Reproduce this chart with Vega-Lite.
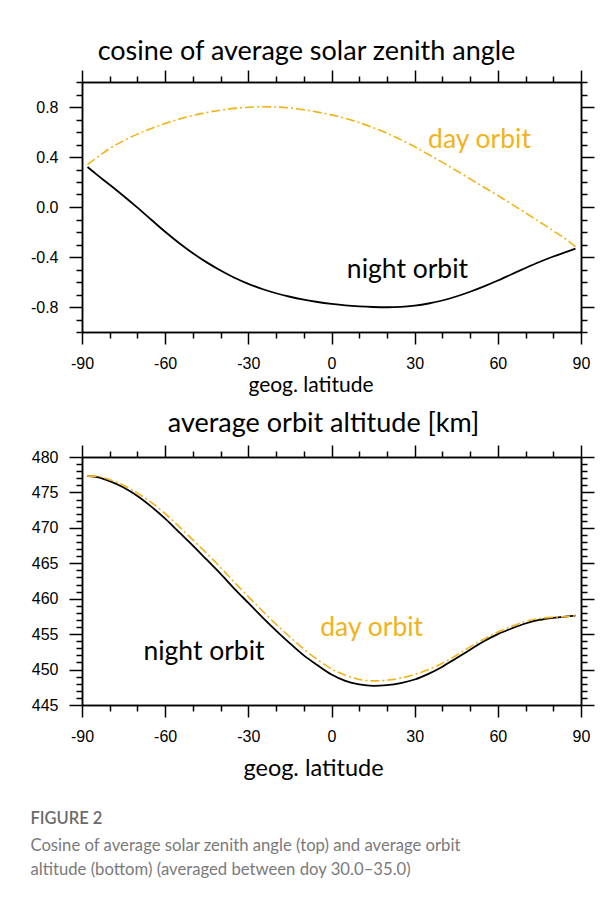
{
  "$schema": "https://vega.github.io/schema/vega-lite/v6.json",
  "background": "white",
  "padding": {"left": 30, "top": 38, "right": 0, "bottom": 0},
  "spacing": 15,
  "datasets": {
    "cosz": [
      {"lat": -88, "orbit": "night", "v": 0.32}, {"lat": -85, "orbit": "night", "v": 0.265}, {"lat": -80, "orbit": "night", "v": 0.178}, {"lat": -75, "orbit": "night", "v": 0.088}, {"lat": -70, "orbit": "night", "v": -0.005}, {"lat": -65, "orbit": "night", "v": -0.102}, {"lat": -60, "orbit": "night", "v": -0.198}, {"lat": -55, "orbit": "night", "v": -0.288}, {"lat": -50, "orbit": "night", "v": -0.37}, {"lat": -45, "orbit": "night", "v": -0.443}, {"lat": -40, "orbit": "night", "v": -0.508}, {"lat": -35, "orbit": "night", "v": -0.566}, {"lat": -30, "orbit": "night", "v": -0.615}, {"lat": -25, "orbit": "night", "v": -0.656}, {"lat": -20, "orbit": "night", "v": -0.69}, {"lat": -15, "orbit": "night", "v": -0.718}, {"lat": -10, "orbit": "night", "v": -0.741}, {"lat": -5, "orbit": "night", "v": -0.76}, {"lat": 0, "orbit": "night", "v": -0.775}, {"lat": 5, "orbit": "night", "v": -0.787}, {"lat": 10, "orbit": "night", "v": -0.795}, {"lat": 15, "orbit": "night", "v": -0.8}, {"lat": 20, "orbit": "night", "v": -0.802}, {"lat": 25, "orbit": "night", "v": -0.799}, {"lat": 30, "orbit": "night", "v": -0.789}, {"lat": 35, "orbit": "night", "v": -0.772}, {"lat": 40, "orbit": "night", "v": -0.748}, {"lat": 45, "orbit": "night", "v": -0.716}, {"lat": 50, "orbit": "night", "v": -0.678}, {"lat": 55, "orbit": "night", "v": -0.635}, {"lat": 60, "orbit": "night", "v": -0.588}, {"lat": 65, "orbit": "night", "v": -0.538}, {"lat": 70, "orbit": "night", "v": -0.488}, {"lat": 75, "orbit": "night", "v": -0.44}, {"lat": 80, "orbit": "night", "v": -0.396}, {"lat": 85, "orbit": "night", "v": -0.357}, {"lat": 88, "orbit": "night", "v": -0.333},
      {"lat": -88, "orbit": "day", "v": 0.34}, {"lat": -85, "orbit": "day", "v": 0.39}, {"lat": -80, "orbit": "day", "v": 0.468}, {"lat": -75, "orbit": "day", "v": 0.53}, {"lat": -70, "orbit": "day", "v": 0.583}, {"lat": -65, "orbit": "day", "v": 0.628}, {"lat": -60, "orbit": "day", "v": 0.668}, {"lat": -55, "orbit": "day", "v": 0.703}, {"lat": -50, "orbit": "day", "v": 0.732}, {"lat": -45, "orbit": "day", "v": 0.756}, {"lat": -40, "orbit": "day", "v": 0.775}, {"lat": -35, "orbit": "day", "v": 0.789}, {"lat": -30, "orbit": "day", "v": 0.798}, {"lat": -25, "orbit": "day", "v": 0.802}, {"lat": -20, "orbit": "day", "v": 0.8}, {"lat": -15, "orbit": "day", "v": 0.792}, {"lat": -10, "orbit": "day", "v": 0.778}, {"lat": -5, "orbit": "day", "v": 0.759}, {"lat": 0, "orbit": "day", "v": 0.737}, {"lat": 5, "orbit": "day", "v": 0.709}, {"lat": 10, "orbit": "day", "v": 0.675}, {"lat": 15, "orbit": "day", "v": 0.635}, {"lat": 20, "orbit": "day", "v": 0.59}, {"lat": 25, "orbit": "day", "v": 0.539}, {"lat": 30, "orbit": "day", "v": 0.482}, {"lat": 35, "orbit": "day", "v": 0.42}, {"lat": 40, "orbit": "day", "v": 0.357}, {"lat": 45, "orbit": "day", "v": 0.292}, {"lat": 50, "orbit": "day", "v": 0.225}, {"lat": 55, "orbit": "day", "v": 0.158}, {"lat": 60, "orbit": "day", "v": 0.092}, {"lat": 65, "orbit": "day", "v": 0.023}, {"lat": 70, "orbit": "day", "v": -0.047}, {"lat": 75, "orbit": "day", "v": -0.118}, {"lat": 80, "orbit": "day", "v": -0.19}, {"lat": 85, "orbit": "day", "v": -0.265}, {"lat": 88, "orbit": "day", "v": -0.318}
    ],
    "alt": [
      {"lat": -88, "orbit": "night", "v": 477.3}, {"lat": -85, "orbit": "night", "v": 477.2}, {"lat": -80, "orbit": "night", "v": 476.6}, {"lat": -75, "orbit": "night", "v": 475.7}, {"lat": -70, "orbit": "night", "v": 474.5}, {"lat": -65, "orbit": "night", "v": 473.0}, {"lat": -60, "orbit": "night", "v": 471.3}, {"lat": -55, "orbit": "night", "v": 469.4}, {"lat": -50, "orbit": "night", "v": 467.5}, {"lat": -45, "orbit": "night", "v": 465.5}, {"lat": -40, "orbit": "night", "v": 463.5}, {"lat": -35, "orbit": "night", "v": 461.4}, {"lat": -30, "orbit": "night", "v": 459.4}, {"lat": -25, "orbit": "night", "v": 457.4}, {"lat": -20, "orbit": "night", "v": 455.5}, {"lat": -15, "orbit": "night", "v": 453.7}, {"lat": -10, "orbit": "night", "v": 452.0}, {"lat": -5, "orbit": "night", "v": 450.6}, {"lat": 0, "orbit": "night", "v": 449.3}, {"lat": 5, "orbit": "night", "v": 448.4}, {"lat": 10, "orbit": "night", "v": 447.9}, {"lat": 15, "orbit": "night", "v": 447.7}, {"lat": 20, "orbit": "night", "v": 447.8}, {"lat": 25, "orbit": "night", "v": 448.1}, {"lat": 30, "orbit": "night", "v": 448.6}, {"lat": 35, "orbit": "night", "v": 449.4}, {"lat": 40, "orbit": "night", "v": 450.4}, {"lat": 45, "orbit": "night", "v": 451.6}, {"lat": 50, "orbit": "night", "v": 452.8}, {"lat": 55, "orbit": "night", "v": 454.0}, {"lat": 60, "orbit": "night", "v": 455.0}, {"lat": 65, "orbit": "night", "v": 455.8}, {"lat": 70, "orbit": "night", "v": 456.5}, {"lat": 75, "orbit": "night", "v": 457.0}, {"lat": 80, "orbit": "night", "v": 457.3}, {"lat": 85, "orbit": "night", "v": 457.5}, {"lat": 88, "orbit": "night", "v": 457.6},
      {"lat": -88, "orbit": "day", "v": 477.3}, {"lat": -85, "orbit": "day", "v": 477.3}, {"lat": -80, "orbit": "day", "v": 476.8}, {"lat": -75, "orbit": "day", "v": 476.0}, {"lat": -70, "orbit": "day", "v": 474.9}, {"lat": -65, "orbit": "day", "v": 473.6}, {"lat": -60, "orbit": "day", "v": 472.0}, {"lat": -55, "orbit": "day", "v": 470.2}, {"lat": -50, "orbit": "day", "v": 468.3}, {"lat": -45, "orbit": "day", "v": 466.4}, {"lat": -40, "orbit": "day", "v": 464.4}, {"lat": -35, "orbit": "day", "v": 462.3}, {"lat": -30, "orbit": "day", "v": 460.3}, {"lat": -25, "orbit": "day", "v": 458.3}, {"lat": -20, "orbit": "day", "v": 456.4}, {"lat": -15, "orbit": "day", "v": 454.6}, {"lat": -10, "orbit": "day", "v": 452.9}, {"lat": -5, "orbit": "day", "v": 451.4}, {"lat": 0, "orbit": "day", "v": 450.1}, {"lat": 5, "orbit": "day", "v": 449.2}, {"lat": 10, "orbit": "day", "v": 448.6}, {"lat": 15, "orbit": "day", "v": 448.4}, {"lat": 20, "orbit": "day", "v": 448.5}, {"lat": 25, "orbit": "day", "v": 448.8}, {"lat": 30, "orbit": "day", "v": 449.3}, {"lat": 35, "orbit": "day", "v": 450.0}, {"lat": 40, "orbit": "day", "v": 450.9}, {"lat": 45, "orbit": "day", "v": 452.0}, {"lat": 50, "orbit": "day", "v": 453.2}, {"lat": 55, "orbit": "day", "v": 454.3}, {"lat": 60, "orbit": "day", "v": 455.3}, {"lat": 65, "orbit": "day", "v": 456.1}, {"lat": 70, "orbit": "day", "v": 456.8}, {"lat": 75, "orbit": "day", "v": 457.2}, {"lat": 80, "orbit": "day", "v": 457.4}, {"lat": 85, "orbit": "day", "v": 457.5}, {"lat": 88, "orbit": "day", "v": 457.6}
    ],
    "notes": [
      {"panel": "top", "orbit": "night", "lat": 27.4, "v": -0.5, "label": "night orbit"},
      {"panel": "top", "orbit": "day", "lat": 53.4, "v": 0.54, "label": "day orbit"},
      {"panel": "bottom", "orbit": "night", "lat": -46, "v": 452.5, "label": "night orbit"},
      {"panel": "bottom", "orbit": "day", "lat": 14.5, "v": 455.85, "label": "day orbit"}
    ]
  },
  "title": {
    "text": "FIGURE 2",
    "subtitle": ["Cosine of average solar zenith angle (top) and average orbit", "altitude (bottom) (averaged between doy 30.0\u201335.0)"],
    "orient": "bottom",
    "anchor": "start",
    "frame": "bounds",
    "font": "Lato",
    "fontSize": 16.5,
    "fontWeight": 600,
    "color": "#6b6b6b",
    "subtitleFont": "Lato",
    "subtitleFontSize": 16.7,
    "subtitleColor": "#7a7a7a",
    "subtitleLineHeight": 24,
    "subtitlePadding": 11,
    "offset": 31
  },
  "vconcat": [
    {
      "width": 499,
      "height": 250,
      "title": {"text": "cosine of average solar zenith angle", "dx": -25, "offset": 3},
      "layer": [
        {
          "data": {"name": "cosz"},
          "transform": [{"filter": "datum.orbit == 'night'"}],
          "mark": {"type": "line", "color": "black", "strokeWidth": 1.8, "interpolate": "monotone"},
          "encoding": {
            "x": {"field": "lat", "type": "quantitative", "scale": {"domain": [-90, 90], "nice": false, "zero": false},
                  "axis": {"orient": "bottom", "values": [-90, -60, -30, 0, 30, 60, 90], "tickSize": 12, "title": "geog. latitude", "titleFontSize": 21, "titleX": 228.5, "titleY": 59, "titleBaseline": "alphabetic", "titleAnchor": "middle", "labelExpr": "replace(datum.label, '\u2212', '-')"}},
            "y": {"field": "v", "type": "quantitative", "scale": {"domain": [-1, 1], "nice": false, "zero": false},
                  "axis": {"orient": "left", "values": [-0.8, -0.4, 0, 0.4, 0.8], "format": ".1f", "tickSize": 13, "title": null, "labelExpr": "replace(datum.label, '\u2212', '-')"}}
          }
        },
        {
          "data": {"name": "cosz"},
          "transform": [{"filter": "datum.orbit == 'day'"}],
          "mark": {"type": "line", "color": "#f2b31a", "strokeWidth": 1.6, "strokeDash": [9, 3, 2, 3], "interpolate": "monotone"},
          "encoding": {
            "x": {"field": "lat", "type": "quantitative", "scale": {"domain": [-90, 90], "nice": false, "zero": false},
                  "axis": {"orient": "bottom", "values": [-80, -70, -50, -40, -20, -10, 10, 20, 40, 50, 70, 80], "tickSize": 6, "labels": false, "title": null}},
            "y": {"field": "v", "type": "quantitative", "scale": {"domain": [-1, 1], "nice": false, "zero": false},
                  "axis": {"orient": "left", "values": [-1, -0.9, -0.7, -0.6, -0.5, -0.3, -0.2, -0.1, 0.1, 0.2, 0.3, 0.5, 0.6, 0.7, 0.9, 1], "tickSize": 6, "labels": false, "title": null}}
          }
        },
        {
          "data": {"name": "notes"},
          "transform": [{"filter": "datum.panel == 'top' && datum.orbit == 'night'"}],
          "mark": {"type": "text", "color": "black", "align": "center", "baseline": "middle"},
          "encoding": {
            "x": {"field": "lat", "type": "quantitative", "scale": {"domain": [-90, 90], "nice": false, "zero": false},
                  "axis": {"orient": "top", "values": [-90, -60, -30, 0, 30, 60, 90], "tickSize": 12, "labels": false, "title": null}},
            "y": {"field": "v", "type": "quantitative", "scale": {"domain": [-1, 1], "nice": false, "zero": false},
                  "axis": {"orient": "right", "values": [-0.8, -0.4, 0, 0.4, 0.8], "tickSize": 13, "labels": false, "title": null}},
            "text": {"field": "label"}
          }
        },
        {
          "data": {"name": "notes"},
          "transform": [{"filter": "datum.panel == 'top' && datum.orbit == 'day'"}],
          "mark": {"type": "text", "color": "#f2b31a", "align": "center", "baseline": "middle"},
          "encoding": {
            "x": {"field": "lat", "type": "quantitative", "scale": {"domain": [-90, 90], "nice": false, "zero": false},
                  "axis": {"orient": "top", "values": [-80, -70, -50, -40, -20, -10, 10, 20, 40, 50, 70, 80], "tickSize": 6, "labels": false, "title": null}},
            "y": {"field": "v", "type": "quantitative", "scale": {"domain": [-1, 1], "nice": false, "zero": false},
                  "axis": {"orient": "right", "values": [-1, -0.9, -0.7, -0.6, -0.5, -0.3, -0.2, -0.1, 0.1, 0.2, 0.3, 0.5, 0.6, 0.7, 0.9, 1], "tickSize": 6, "labels": false, "title": null}},
            "text": {"field": "label"}
          }
        }
      ],
      "resolve": {"axis": {"x": "independent", "y": "independent"}}
    },
    {
      "width": 499,
      "height": 248,
      "title": {"text": "average orbit altitude [km]", "dx": -8, "offset": 6},
      "layer": [
        {
          "data": {"name": "alt"},
          "transform": [{"filter": "datum.orbit == 'night'"}],
          "mark": {"type": "line", "color": "black", "strokeWidth": 1.8, "interpolate": "monotone"},
          "encoding": {
            "x": {"field": "lat", "type": "quantitative", "scale": {"domain": [-90, 90], "nice": false, "zero": false},
                  "axis": {"orient": "bottom", "values": [-90, -60, -30, 0, 30, 60, 90], "tickSize": 12, "title": "geog. latitude", "titleFontSize": 23.5, "titleX": 231, "titleY": 70, "titleBaseline": "alphabetic", "titleAnchor": "middle", "labelExpr": "replace(datum.label, '\u2212', '-')"}},
            "y": {"field": "v", "type": "quantitative", "scale": {"domain": [445, 480], "nice": false, "zero": false},
                  "axis": {"orient": "left", "values": [445, 450, 455, 460, 465, 470, 475, 480], "tickSize": 13, "title": null}}
          }
        },
        {
          "data": {"name": "alt"},
          "transform": [{"filter": "datum.orbit == 'day'"}],
          "mark": {"type": "line", "color": "#f2b31a", "strokeWidth": 1.6, "strokeDash": [9, 3, 2, 3], "interpolate": "monotone"},
          "encoding": {
            "x": {"field": "lat", "type": "quantitative", "scale": {"domain": [-90, 90], "nice": false, "zero": false},
                  "axis": {"orient": "bottom", "values": [-80, -70, -50, -40, -20, -10, 10, 20, 40, 50, 70, 80], "tickSize": 6, "labels": false, "title": null}},
            "y": {"field": "v", "type": "quantitative", "scale": {"domain": [445, 480], "nice": false, "zero": false},
                  "axis": {"orient": "left", "values": [446, 447, 448, 449, 451, 452, 453, 454, 456, 457, 458, 459, 461, 462, 463, 464, 466, 467, 468, 469, 471, 472, 473, 474, 476, 477, 478, 479], "tickSize": 6, "labels": false, "title": null}}
          }
        },
        {
          "data": {"name": "notes"},
          "transform": [{"filter": "datum.panel == 'bottom' && datum.orbit == 'night'"}],
          "mark": {"type": "text", "color": "black", "align": "center", "baseline": "middle"},
          "encoding": {
            "x": {"field": "lat", "type": "quantitative", "scale": {"domain": [-90, 90], "nice": false, "zero": false},
                  "axis": {"orient": "top", "values": [-90, -60, -30, 0, 30, 60, 90], "tickSize": 12, "labels": false, "title": null}},
            "y": {"field": "v", "type": "quantitative", "scale": {"domain": [445, 480], "nice": false, "zero": false},
                  "axis": {"orient": "right", "values": [445, 450, 455, 460, 465, 470, 475, 480], "tickSize": 13, "labels": false, "title": null}},
            "text": {"field": "label"}
          }
        },
        {
          "data": {"name": "notes"},
          "transform": [{"filter": "datum.panel == 'bottom' && datum.orbit == 'day'"}],
          "mark": {"type": "text", "color": "#f2b31a", "align": "center", "baseline": "middle"},
          "encoding": {
            "x": {"field": "lat", "type": "quantitative", "scale": {"domain": [-90, 90], "nice": false, "zero": false},
                  "axis": {"orient": "top", "values": [-80, -70, -50, -40, -20, -10, 10, 20, 40, 50, 70, 80], "tickSize": 6, "labels": false, "title": null}},
            "y": {"field": "v", "type": "quantitative", "scale": {"domain": [445, 480], "nice": false, "zero": false},
                  "axis": {"orient": "right", "values": [446, 447, 448, 449, 451, 452, 453, 454, 456, 457, 458, 459, 461, 462, 463, 464, 466, 467, 468, 469, 471, 472, 473, 474, 476, 477, 478, 479], "tickSize": 6, "labels": false, "title": null}},
            "text": {"field": "label"}
          }
        }
      ],
      "resolve": {"axis": {"x": "independent", "y": "independent"}}
    }
  ],
  "config": {
    "view": {"stroke": null},
    "font": "Lato",
    "axis": {"grid": false, "domainColor": "black", "domainWidth": 1.5, "tickColor": "black", "tickWidth": 1.5, "labelFont": "Liberation Sans", "labelFontSize": 16, "labelColor": "black", "labelPadding": 11, "labelFlush": false, "labelOverlap": false, "labelBound": false, "titleFont": "Lato", "titleFontWeight": "normal", "titleColor": "black", "minExtent": 0},
    "title": {"font": "Lato", "fontSize": 27, "fontWeight": "normal", "color": "black", "anchor": "middle"},
    "text": {"font": "Lato", "fontSize": 26.5}
  }
}
